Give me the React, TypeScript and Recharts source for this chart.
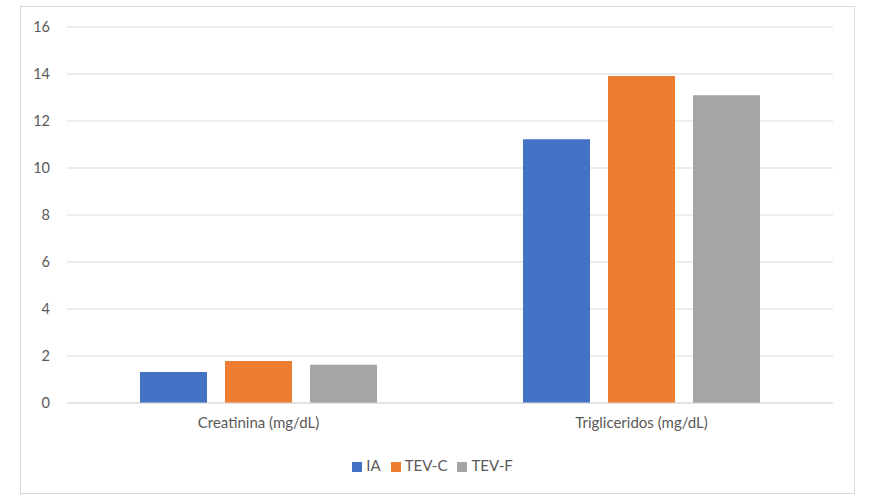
import React from "react";
import { Bar, BarChart, CartesianGrid, Legend, XAxis, YAxis } from "recharts";

const categories = ["Creatinina (mg/dL)", "Trigliceridos (mg/dL)"];
const ia = [1.32, 11.22];
const tevC = [1.79, 13.91];
const tevF = [1.63, 13.1];
const yTicks = [0, 2, 4, 6, 8, 10, 12, 14, 16];

const data = categories.map((name, i) => ({
  name,
  IA: ia[i],
  "TEV-C": tevC[i],
  "TEV-F": tevF[i],
}));

const FONT = "Lato, 'Noto Sans', sans-serif";
const TEXT = "#595959";
const GRID = "#d9d9d9";

export default function App() {
  return (
    <div
      style={{
        position: "absolute",
        left: 0,
        top: 0,
        width: 875,
        height: 500,
        background: "#fff",
        fontFamily: FONT,
      }}
    >
      <div
        style={{
          position: "absolute",
          left: 20,
          top: 6,
          width: 833,
          height: 486,
          border: `1px solid ${GRID}`,
        }}
      />
      <BarChart
        width={875}
        height={500}
        data={data}
        margin={{ top: 27, right: 42, bottom: 26, left: 0 }}
        barCategoryGap={73}
        barGap={18}
      >
        <CartesianGrid vertical={false} stroke={GRID} />
        <XAxis
          dataKey="name"
          tickLine={false}
          axisLine={{ stroke: GRID }}
          tick={{ fontSize: 15, fill: TEXT, fontFamily: FONT }}
          tickMargin={8}
          height={53}
        />
        <YAxis
          domain={[0, 16]}
          ticks={yTicks}
          tickLine={false}
          axisLine={false}
          tick={{ fontSize: 14.5, fill: TEXT, fontFamily: FONT }}
          tickMargin={11}
          width={67}
        />
        <Legend
          verticalAlign="bottom"
          iconType="square"
          iconSize={10}
          wrapperStyle={{ fontSize: 15, color: TEXT, fontFamily: FONT, left: 0, width: 875 }}
          formatter={(value) => <span style={{ color: TEXT }}>{value}</span>}
        />
        <Bar dataKey="IA" fill="#4472C4" isAnimationActive={false} />
        <Bar dataKey="TEV-C" fill="#ED7D31" isAnimationActive={false} />
        <Bar dataKey="TEV-F" fill="#A5A5A5" isAnimationActive={false} />
      </BarChart>
    </div>
  );
}
